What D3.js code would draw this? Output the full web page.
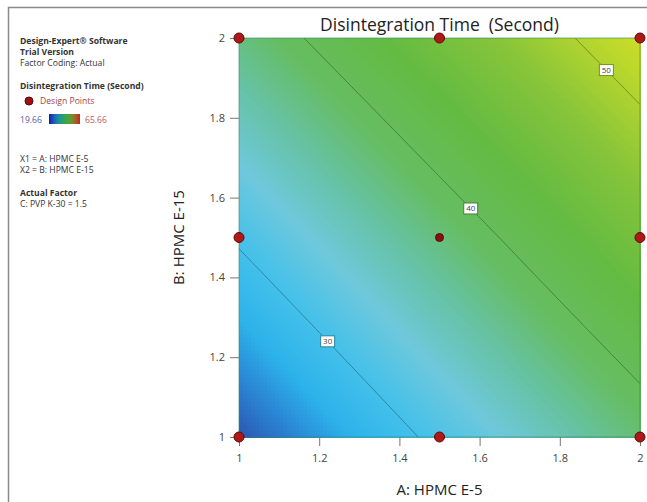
<!DOCTYPE html>
<html>
<head>
<meta charset="utf-8">
<script src="https://cdn.jsdelivr.net/npm/d3@7"></script>
<style>
  body { margin: 0; background: #fff; }
  svg { display: block; font-family: "Open Sans", "Noto Sans", sans-serif; }
</style>
</head>
<body>
<svg id="canvas" width="647" height="502"></svg>
<script>
// design levels of the two factors
const factorA = [1, 1.5, 2];
const factorB = [1, 1.5, 2];
// predicted disintegration time (s) at each design level, rows = B, cols = A
const response = [
  [23.3, 30.8, 38.1],
  [30.4, 37.8, 45.2],
  [37.6, 45.0, 52.4],
];
const designPoints = [
  [1, 1], [1.5, 1], [2, 1],
  [1, 1.5], [1.5, 1.5], [2, 1.5],
  [1, 2], [1.5, 2], [2, 2],
];
const contourLevels = [30, 40, 50];
const xTicks = [1, 1.2, 1.4, 1.6, 1.8, 2];
const yTicks = [1, 1.2, 1.4, 1.6, 1.8, 2];
const responseMin = 19.66;
const responseMax = 65.66;

// colour map, blue -> cyan -> green -> yellow -> red
const colorStops = [19.66, 23.5, 25.5, 27.5, 30, 33, 36, 39, 43, 47, 51, 54, 60, 65.66];
const colorValues = ["#1c3c9c", "#2a5ab4", "#2a86d4", "#2cb2ea", "#42c0ea", "#6ec8dc", "#66c2a4",
  "#66bd62", "#64bb42", "#86c43a", "#bcd82c", "#dcdf24", "#f0a020", "#d02020"];

const canvas = d3.select("#canvas");
const width = +canvas.attr("width");
const height = +canvas.attr("height");

const x = d3.scaleLinear().domain([1, 2]).range([239, 640]);
const y = d3.scaleLinear().domain([1, 2]).range([437, 38]);
const color = d3.scaleLinear().domain(colorStops).range(colorValues).clamp(true);

// value of the surface at (a, b), linear between design levels
const rowScales = response.map((row) => d3.scaleLinear().domain(factorA).range(row));
const surface = (a, b) => {
  const col = rowScales.map((s) => s(a));
  return d3.scaleLinear().domain(factorB).range(col)(b);
};

// outer frame
canvas.append("rect")
  .attr("x", 8.5).attr("y", 7.5)
  .attr("width", width + 20).attr("height", height + 20)
  .attr("fill", "none").attr("stroke", "#8a8a8a").attr("stroke-width", 1.5);

// surface cells
const cells = 100;
const cellStep = 1 / cells;
const cellData = [];
for (let j = 0; j < cells; j++) {
  for (let i = 0; i < cells; i++) {
    const a = 1 + (i + 0.5) * cellStep;
    const b = 1 + (j + 0.5) * cellStep;
    cellData.push({ a0: 1 + i * cellStep, b0: 1 + j * cellStep, v: surface(a, b) });
  }
}
const g = canvas.append("g");
g.selectAll("rect.cell")
  .data(cellData)
  .enter()
  .append("rect")
  .attr("class", "cell")
  .attr("x", (d) => x(d.a0))
  .attr("y", (d) => y(d.b0 + cellStep))
  .attr("width", x(1 + cellStep) - x(1) + 0.6)
  .attr("height", y(1) - y(1 + cellStep) + 0.6)
  .attr("fill", (d) => color(d.v))
  .attr("shape-rendering", "crispEdges");

// plot border
canvas.append("rect")
  .attr("x", x(1)).attr("y", y(2))
  .attr("width", x(2) - x(1)).attr("height", y(1) - y(2))
  .attr("fill", "none").attr("stroke", "#2f8a5a").attr("stroke-opacity", 0.6);

// contour lines
const n = 200;
const grid = new Array(n * n);
for (let j = 0; j < n; j++) {
  for (let i = 0; i < n; i++) {
    grid[j * n + i] = surface(1 + i / (n - 1), 1 + j / (n - 1));
  }
}
const gridToA = d3.scaleLinear().domain([0.5, n - 0.5]).range([1, 2]).clamp(true);
const contours = d3.contours().size([n, n]).thresholds(contourLevels)(grid);

contours.forEach((c) => {
  const lines = [];
  c.coordinates.forEach((poly) => {
    poly.forEach((ring) => {
      let current = [];
      for (let k = 0; k < ring.length - 1; k++) {
        const p = ring[k], q = ring[k + 1];
        const sameEdge =
          (p[0] <= 0.5 && q[0] <= 0.5) || (p[0] >= n - 0.5 && q[0] >= n - 0.5) ||
          (p[1] <= 0.5 && q[1] <= 0.5) || (p[1] >= n - 0.5 && q[1] >= n - 0.5);
        if (sameEdge) {
          if (current.length > 1) lines.push(current);
          current = [];
        } else {
          if (current.length == 0) current.push(p);
          current.push(q);
        }
      }
      if (current.length > 1) lines.push(current);
    });
  });

  const lineColor = d3.color(color(c.value)).darker(1.1);
  lines.forEach((pts) => {
    const screen = pts.map((p) => [x(gridToA(p[0])), y(gridToA(p[1]))]);
    canvas.append("path")
      .attr("d", d3.line()(screen))
      .attr("fill", "none")
      .attr("stroke", lineColor)
      .attr("stroke-width", 1);

    // label at the middle of the line
    const lengths = [0];
    for (let k = 1; k < screen.length; k++) {
      lengths.push(lengths[k - 1] + Math.hypot(screen[k][0] - screen[k - 1][0], screen[k][1] - screen[k - 1][1]));
    }
    const half = lengths[lengths.length - 1] / 2;
    const idx = lengths.findIndex((l) => l >= half);
    const lp = screen[Math.max(idx, 0)];
    canvas.append("rect")
      .attr("x", lp[0] - 7).attr("y", lp[1] - 5.5)
      .attr("width", 14).attr("height", 11)
      .attr("fill", "#fff").attr("stroke", lineColor).attr("stroke-width", 1);
    canvas.append("text")
      .attr("x", lp[0]).attr("y", lp[1] + 3)
      .attr("text-anchor", "middle")
      .attr("font-size", 8)
      .attr("fill", "#444")
      .text(c.value);
  });
});

// axes
const xAxis = canvas.append("g").attr("transform", `translate(0,${y(1)})`)
  .call(d3.axisBottom(x).tickValues(xTicks).tickFormat(d3.format("")).tickSize(9).tickPadding(8));
const yAxis = canvas.append("g").attr("transform", `translate(${x(1)},0)`)
  .call(d3.axisLeft(y).tickValues(yTicks).tickFormat(d3.format("")).tickSize(9).tickPadding(5));
[xAxis, yAxis].forEach((ax) => {
  ax.select(".domain").remove();
  ax.selectAll(".tick line").attr("stroke", "#777");
  ax.selectAll(".tick text")
    .attr("fill", "#444")
    .attr("font-size", 11)
    .attr("font-family", "\"Open Sans\", sans-serif");
});

// design points
canvas.selectAll("circle.pt")
  .data(designPoints)
  .enter()
  .append("circle")
  .attr("class", "pt")
  .attr("cx", (d) => x(d[0]))
  .attr("cy", (d) => y(d[1]))
  .attr("r", (d) => (d[0] == 1.5 && d[1] == 1.5 ? 4 : 5))
  .attr("fill", (d) => (d[0] == 1.5 && d[1] == 1.5 ? "#8a1010" : "#b01818"))
  .attr("stroke", "#5a0808")
  .attr("stroke-width", 1);

// titles
canvas.append("text")
  .attr("x", (x(1) + x(2)) / 2).attr("y", 31)
  .attr("text-anchor", "middle")
  .attr("font-size", 17.5)
  .attr("fill", "#222")
  .text("Disintegration Time  (Second)")
  .style("white-space", "pre");
canvas.append("text")
  .attr("x", (x(1) + x(2)) / 2).attr("y", 495)
  .attr("text-anchor", "middle")
  .attr("font-size", 15)
  .attr("fill", "#222")
  .text("A: HPMC E-5");
canvas.append("text")
  .attr("transform", `translate(184,${(y(1) + y(2)) / 2}) rotate(-90)`)
  .attr("text-anchor", "middle")
  .attr("font-size", 15)
  .attr("fill", "#222")
  .text("B: HPMC E-15");

// side legend
const legend = canvas.append("g").attr("font-size", 8.6).attr("fill", "#333");
const legendLines = [
  { t: "Design-Expert® Software", y: 44, bold: true },
  { t: "Trial Version", y: 55, bold: true },
  { t: "Factor Coding: Actual", y: 66, bold: false },
  { t: "Disintegration Time (Second)", y: 89, bold: true },
  { t: "X1 = A: HPMC E-5", y: 162, bold: false },
  { t: "X2 = B: HPMC E-15", y: 173, bold: false },
  { t: "Actual Factor", y: 196, bold: true },
  { t: "C: PVP K-30 = 1.5", y: 207, bold: false },
];
legend.selectAll("text.line")
  .data(legendLines)
  .enter()
  .append("text")
  .attr("class", "line")
  .attr("x", 20)
  .attr("y", (d) => d.y)
  .attr("font-weight", (d) => (d.bold ? "bold" : "normal"))
  .text((d) => d.t);

legend.append("circle").attr("cx", 29).attr("cy", 101).attr("r", 4)
  .attr("fill", "#a01010").attr("stroke", "#5a0808");
legend.append("text").attr("x", 40).attr("y", 104).attr("fill", "#a04848").text("Design Points");

const grad = canvas.append("defs").append("linearGradient").attr("id", "cbar");
grad.selectAll("stop")
  .data(d3.range(0, 1.0001, 0.1))
  .enter()
  .append("stop")
  .attr("offset", (d) => d)
  .attr("stop-color", (d) => d3.interpolateRgbBasis(["#1a1aa0", "#1c8ad0", "#20b040", "#7a9a30", "#d02020"])(d));
legend.append("text").attr("x", 20).attr("y", 123).attr("fill", "#5a5aa8").text(responseMin);
legend.append("rect").attr("x", 49).attr("y", 114).attr("width", 31).attr("height", 10)
  .attr("fill", "url(#cbar)");
legend.append("text").attr("x", 85).attr("y", 123).attr("fill", "#c05a5a").text(responseMax);
</script>
</body>
</html>
